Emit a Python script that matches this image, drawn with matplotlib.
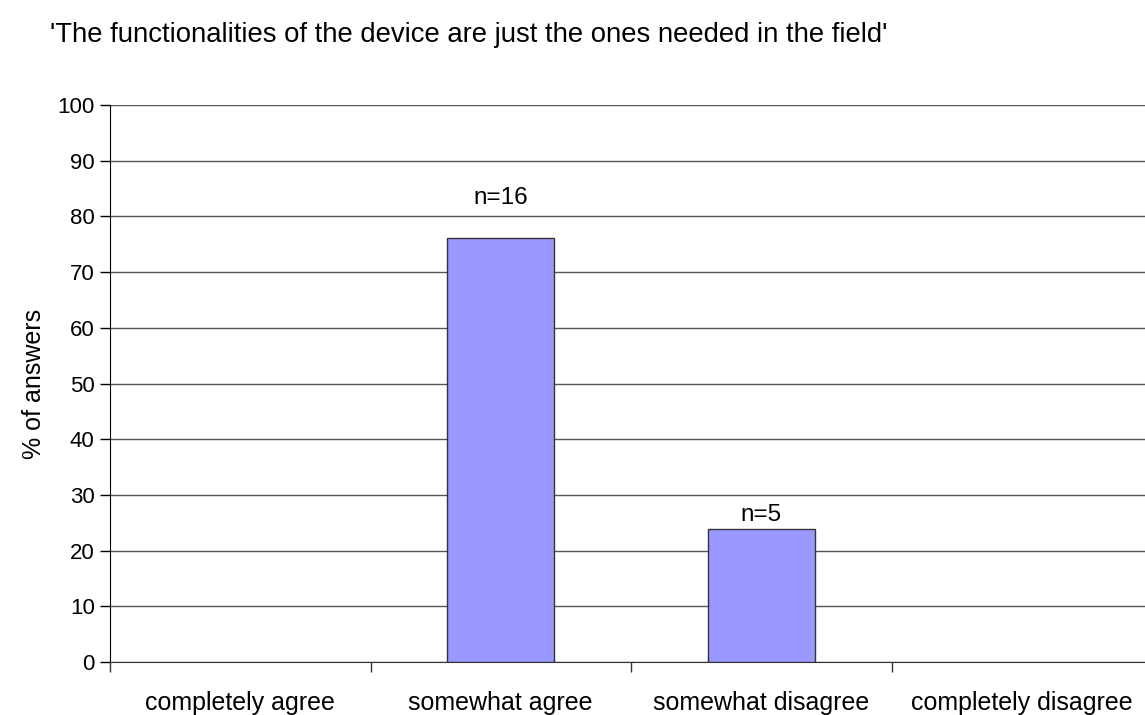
import matplotlib.pyplot as plt
import numpy as np
from matplotlib.ticker import FixedLocator

plt.rcParams['font.family'] = ['Liberation Sans', 'DejaVu Sans']

categories = ["completely agree", "somewhat agree", "somewhat disagree", "completely disagree"]
percent = [0.0, 76.19, 23.81, 0.0]
counts = [0, 16, 5, 0]

title = "'The functionalities of the device are just the ones needed in the field'"

# label gap above each bar (in % units), as placed in the original
label_gap = [0, 7.1, 2.6, 0]

fig = plt.figure(figsize=(11.45, 7.15), dpi=100)
W, H = 1145, 715
ax = fig.add_axes([110 / W, 53 / H, 1042 / W, 557 / H])

x = np.arange(len(categories))
ax.set_axisbelow(True)
for i, (v, n) in enumerate(zip(percent, counts)):
    if n == 0:
        continue
    ax.bar(x[i], v, width=0.41, color='#9999FF', edgecolor='#333333', linewidth=1, zorder=3)
    ax.text(x[i], v + label_gap[i], f"n={n}", ha='center', va='center', fontsize=17.5)

ax.set_xlim(-0.5, len(categories) - 0.5)
ax.set_ylim(0, 100)
ax.set_yticks(range(0, 101, 10))
ax.yaxis.grid(True, color='#555555', linewidth=1)

ax.set_xticks(x)
ax.set_xticklabels(categories, fontsize=18)
ax.xaxis.set_minor_locator(FixedLocator(np.arange(-0.5, len(categories), 1.0)))
ax.tick_params(axis='x', which='major', length=0, pad=21)
ax.tick_params(axis='x', which='minor', length=7, width=1, color='#333333', direction='out')
ax.tick_params(axis='y', length=7, width=1, direction='out', labelsize=16, pad=4)

for side in ['top', 'right']:
    ax.spines[side].set_visible(False)
ax.spines['left'].set_color('black')
ax.spines['bottom'].set_color('#333333')

ax.set_ylabel("% of answers", fontsize=18, labelpad=8)
fig.text(469 / W, 1 - 35 / H, title, ha='center', va='center', fontsize=19.8)

fig.savefig("out.png", dpi=100)
